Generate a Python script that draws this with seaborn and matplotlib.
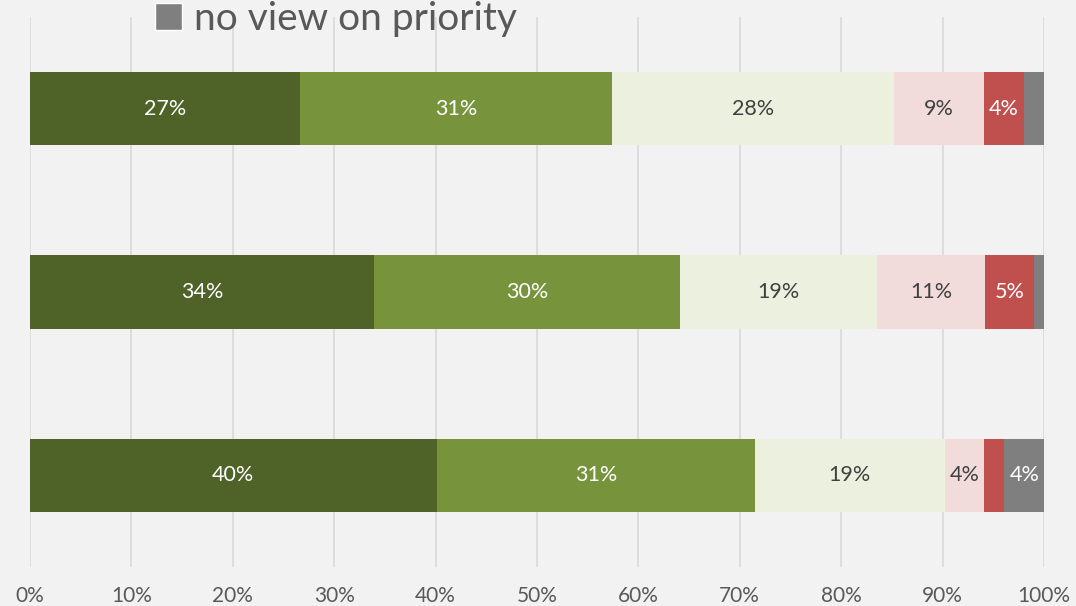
import matplotlib
matplotlib.use("Agg")
import matplotlib.pyplot as plt
import seaborn as sns
import pandas as pd
import numpy as np
from matplotlib.patches import Patch

# ---- data (percent) ----
groups = ["Group 1", "Group 2", "Group 3"]
segment_names = ["top priority", "high priority", "medium priority",
                 "low priority", "not a priority", "no view on priority"]
top_priority = [26.6, 33.9, 40.1]
high_priority = [30.8, 30.2, 31.4]
medium_priority = [27.8, 19.4, 18.7]
low_priority = [8.9, 10.7, 3.9]
not_priority = [3.9, 4.8, 2.0]
no_view = [2.0, 1.0, 3.9]
x_ticks = [0, 10, 20, 30, 40, 50, 60, 70, 80, 90, 100]

series = [top_priority, high_priority, medium_priority, low_priority, not_priority, no_view]
colors = ["#4F6228", "#77933C", "#EBF1DE", "#F2DCDB", "#C0504D", "#7F7F7F"]
label_colors = ["white", "white", "#404040", "#404040", "white", "white"]

bg = "#F2F2F2"
sns.set_theme(style="white")
plt.rcParams["font.family"] = ["Lato", "DejaVu Sans"]

fig = plt.figure(figsize=(10.76, 6.06), dpi=100, facecolor=bg)
ax = fig.add_axes([30 / 1076, 39 / 606, 1014 / 1076, 550 / 606])
ax.set_facecolor(bg)

vals = np.array(series, dtype=float)
cum = np.cumsum(vals, axis=0)

# draw cumulative totals from largest to smallest so segments stack
for i in reversed(range(len(series))):
    df = pd.DataFrame({"group": groups, "value": cum[i]})
    sns.barplot(data=df, x="value", y="group", color=colors[i], saturation=1,
                width=0.4, errorbar=None, orient="h", ax=ax, linewidth=0, zorder=3)

# data labels
for i in range(len(series)):
    for j, g in enumerate(groups):
        v = vals[i, j]
        if v < 2.5:
            continue
        center = cum[i, j] - v / 2
        ax.text(center, j, f"{round(v):.0f}%", ha="center", va="center",
                color=label_colors[i], fontsize=15.5, zorder=5)

ax.set_xlim(0, 100)
ax.set_ylim(2.5, -0.5)
ax.set_xticks(x_ticks)
ax.set_xticklabels([f"{t}%" for t in x_ticks], color="#595959", fontsize=15)
ax.set_yticks([])
ax.set_xlabel("")
ax.set_ylabel("")
ax.tick_params(axis="x", length=0, pad=14)
for s in ax.spines.values():
    s.set_visible(False)
ax.grid(axis="x", color="#D9D9D9", linewidth=1.2, zorder=0)
ax.set_axisbelow(True)

fig.legend(handles=[Patch(facecolor=colors[5])], labels=[segment_names[5]],
           loc="upper left", bbox_to_anchor=(155 / 1076, 1.0 - 1 / 606), frameon=False,
           fontsize=28, labelcolor="#595959", handlelength=0.7, handleheight=0.7,
           handletextpad=0.3, borderaxespad=0, borderpad=0)

fig.savefig("out.png", dpi=100, facecolor=bg)
